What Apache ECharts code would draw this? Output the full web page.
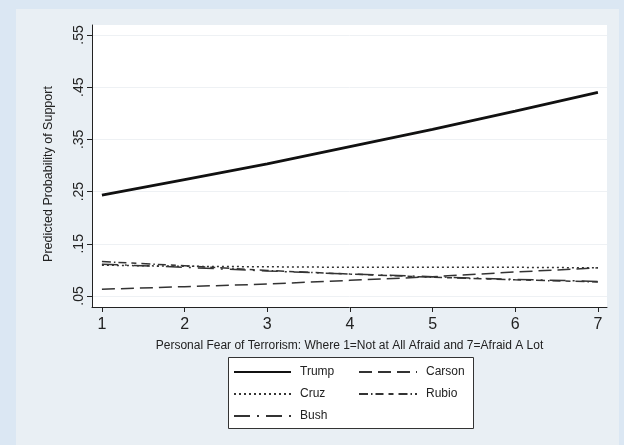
<!DOCTYPE html>
<html>
<head>
<meta charset="utf-8">
<script src="https://cdn.jsdelivr.net/npm/echarts@6/dist/echarts.min.js"></script>
<style>
html,body{margin:0;padding:0;background:#dbe7f3;}
#c{width:624px;height:445px;}
</style>
</head>
<body>
<div id="c"></div>
<script>
var fear = [1, 2, 3, 4, 5, 6, 7];
var trump = [0.243, 0.273, 0.303, 0.336, 0.369, 0.404, 0.440];
var cruz = [0.109, 0.107, 0.106, 0.105, 0.105, 0.105, 0.104];
var carson = [0.063, 0.068, 0.073, 0.080, 0.087, 0.096, 0.104];
var rubio = [0.116, 0.108, 0.099, 0.092, 0.086, 0.081, 0.077];
var bush = [0.111, 0.105, 0.098, 0.092, 0.087, 0.082, 0.078];
var yTicks = [0.05, 0.15, 0.25, 0.35, 0.45, 0.55];
var xTicks = [1, 2, 3, 4, 5, 6, 7];
var yTickLabels = ['.05', '.15', '.25', '.35', '.45', '.55'];
var xTitle = 'Personal Fear of Terrorism: Where 1=Not at All Afraid and 7=Afraid A Lot';
var yTitle = 'Predicted Probability of Support';

function pairs(ys) { return fear.map(function (x, i) { return [x, ys[i]]; }); }

var FONT = 'Liberation Sans, Arial, sans-serif';
function mk(name, ys, color, width, dash) {
  return {
    name: name, type: 'line', data: pairs(ys), symbol: 'none',
    itemStyle: { color: 'rgba(0,0,0,0)' },
    lineStyle: { color: color, width: width, type: dash },
    emphasis: { disabled: true }, animation: false, z: name === 'Trump' ? 5 : 3
  };
}
var chart = echarts.init(document.getElementById('c'));
var legText = { color: '#222', fontSize: 12, fontFamily: FONT, padding: [0, 0, 0, 4] };
chart.setOption({
  backgroundColor: '#dbe7f3',
  animation: false,
  graphic: [
    { type: 'rect', shape: { x: 16, y: 9, width: 603, height: 436 }, style: { fill: '#e9eff4' }, z: -10 },
    { type: 'rect', shape: { x: 228.5, y: 357.5, width: 245, height: 71 }, style: { fill: '#ffffff', stroke: '#333', lineWidth: 1 }, z: 1 }
  ],
  grid: { left: 92, top: 25, right: 17, bottom: 138, containLabel: false, outerBoundsMode: 'none', show: true, backgroundColor: '#ffffff', borderWidth: 0 },
  xAxis: {
    type: 'value', min: 0.88, max: 7.11,
    name: xTitle, nameLocation: 'middle', nameGap: 33,
    nameTextStyle: { fontSize: 12, color: '#222', fontFamily: FONT },
    axisLine: { lineStyle: { color: '#222', width: 1 } },
    axisTick: { show: true, length: 5, customValues: xTicks, lineStyle: { color: '#222' } },
    axisLabel: { customValues: xTicks, fontSize: 16, color: '#222', margin: 10, fontFamily: FONT },
    splitLine: { show: false }
  },
  yAxis: {
    type: 'value', min: 0.029, max: 0.569,
    name: yTitle, nameLocation: 'middle', nameGap: 37,
    nameTextStyle: { fontSize: 12.5, color: '#222', fontFamily: FONT, padding: [0, 16, 0, 0] },
    axisLine: { show: true, lineStyle: { color: '#222', width: 1 } },
    axisTick: { show: true, length: 5, customValues: yTicks, lineStyle: { color: '#222' } },
    axisLabel: {
      customValues: yTicks, rotate: 90, fontSize: 14, color: '#222', margin: 6, fontFamily: FONT,
      formatter: function (v) { var i = yTicks.findIndex(function (t) { return Math.abs(t - v) < 1e-6; }); return i >= 0 ? yTickLabels[i] : ''; }
    },
    splitLine: { show: true, lineStyle: { color: '#eef1f4', width: 1 } }
  },
  legend: [
    {
      orient: 'vertical', left: 233, top: 366, itemWidth: 57, itemHeight: 12, itemGap: 10,
      data: ['Trump', 'Cruz', 'Bush'], textStyle: legText, selectedMode: false, padding: 0, z: 4
    },
    {
      orient: 'vertical', left: 358, top: 366, itemWidth: 58, itemHeight: 12, itemGap: 10,
      data: ['Carson', 'Rubio'], textStyle: legText, selectedMode: false, padding: 0, z: 4
    }
  ],
  series: [
    mk('Trump', trump, '#111', 2.8, 'solid'),
    mk('Carson', carson, '#333', 1.5, [13, 6]),
    mk('Cruz', cruz, '#333', 1.5, [2, 3]),
    mk('Rubio', rubio, '#333', 1.5, [9, 3, 1.5, 3, 8, 5, 5, 5]),
    mk('Bush', bush, '#333', 1.5, [16, 7, 2, 7])
  ]
});
</script>
</body>
</html>
